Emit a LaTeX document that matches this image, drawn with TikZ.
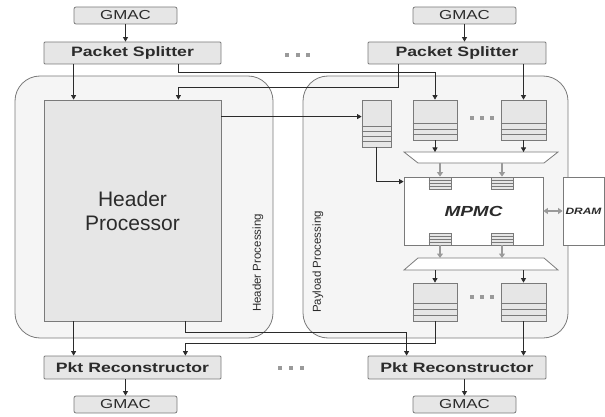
\documentclass[tikz,border=0pt]{standalone}
\usepackage{fontspec}
\setmainfont{Liberation Sans}
\newfontfamily\lab[FakeStretch=1.3]{Liberation Sans}
\usetikzlibrary{arrows.meta,calc}
\definecolor{boxfill}{HTML}{E6E6E6}
\definecolor{regfill}{HTML}{F5F5F5}
\definecolor{edge}{HTML}{7A7A7A}
\definecolor{ink}{HTML}{2B2B2B}
\definecolor{gline}{HTML}{9A9A9A}
\newcommand\qstripes[2]{\foreach \d in {#2}{\draw[edge,line width=0.7pt] ($(#1.south west)+(0,-\d)$) -- ($(#1.south east)+(0,-\d)$);}}
\begin{document}
\begin{tikzpicture}[x=1pt,y=-1pt,
 region/.style={draw=edge, fill=regfill, rounded corners=25pt, line width=0.8pt, inner sep=0},
 blk/.style={draw=edge, fill=boxfill, line width=0.8pt, inner sep=0, text=ink},
 gmacbox/.style={blk, minimum width=103pt, minimum height=17pt, rounded corners=2pt, font=\lab\fontsize{13}{15}\selectfont},
 unitbox/.style={blk, minimum height=22pt, rounded corners=1pt, font=\lab\bfseries\fontsize{13.6}{16}\selectfont},
 queue/.style={blk},
 muxshape/.style={draw=edge, fill=white, line width=0.8pt},
 ctrl/.style={draw=edge, fill=white, inner sep=0, line width=0.8pt, text=ink},
 vlabel/.style={rotate=90, text=ink, font=\fontsize{11.5}{13}\selectfont},
 arr/.style={draw=ink, line width=0.7pt, -{Triangle[length=4.5pt,width=5pt]}},
 garr/.style={draw=gline, line width=1.3pt, -{Triangle[length=4.5pt,width=6pt]}},
 gdarr/.style={draw=gline, line width=1.3pt, {Triangle[length=4.5pt,width=6pt]}-{Triangle[length=4.5pt,width=6pt]}},
 dotmark/.style={fill=gline}
]
\useasboundingbox (0,0) rectangle (605,417);

% regions
\node[region, minimum width=258pt, minimum height=262pt] (hreg) at (144,207) {};
\node[region, minimum width=265pt, minimum height=262pt] (preg) at (435.5,207) {};
\node[vlabel] (hlab) at (258,263) {Header Processing};
\node[vlabel] (plab) at (318,262) {Payload Processing};

% top / bottom units
\node[gmacbox] (g1) at (125.5,15.5) {GMAC};
\node[gmacbox] (g2) at (464.5,15.5) {GMAC};
\node[unitbox, minimum width=177pt] (s1) at (132.5,53) {Packet Splitter};
\node[unitbox, minimum width=178pt] (s2) at (457,53) {Packet Splitter};
\node[blk, minimum width=177pt, minimum height=221pt, align=center, font=\fontsize{21}{24}\selectfont] (hp) at (132.5,210.5) {Header\\Processor};
\node[unitbox, minimum width=177pt, minimum height=23pt] (r1) at (132.5,367.5) {Pkt Reconstructor};
\node[unitbox, minimum width=178pt, minimum height=23pt] (r2) at (457,367.5) {Pkt Reconstructor};
\node[gmacbox] (g3) at (125.5,404.5) {GMAC};
\node[gmacbox] (g4) at (464.5,404.5) {GMAC};

% queues
\node[queue, minimum width=29pt, minimum height=47pt] (sq) at (376.5,123.5) {};
\node[queue, minimum width=44pt, minimum height=40pt] (q1) at (435,120) {};
\node[queue, minimum width=45pt, minimum height=40pt] (q2) at (523.5,120) {};
\node[queue, minimum width=44pt, minimum height=38pt] (q3) at (435,302) {};
\node[queue, minimum width=45pt, minimum height=38pt] (q4) at (523.5,302) {};
\qstripes{sq}{6,11,16,21}
\qstripes{q1}{6,11.5,17}
\qstripes{q2}{6,11.5,17}
\qstripes{q3}{6,12,18}
\qstripes{q4}{6,12,18}

% muxes
\draw[muxshape] (404,152) -- (558,152) -- (544,163) -- (418,163) -- cycle;
\draw[muxshape] (418,258) -- (544,258) -- (558,270) -- (404,270) -- cycle;
\coordinate (m1t) at (481,152);
\coordinate (m1b) at (481,163);
\coordinate (m2t) at (481,258);
\coordinate (m2b) at (481,270);

% memory controller
\node[ctrl, minimum width=139pt, minimum height=68pt, font=\lab\bfseries\itshape\fontsize{14.6}{17}\selectfont] (mpmc) at (473.5,211) {MPMC};
\node[ctrl, minimum width=41pt, minimum height=68pt, font=\lab\bfseries\itshape\fontsize{9.2}{11}\selectfont] (dram) at (583.5,211) {DRAM};
\node[queue, minimum width=22pt, minimum height=12pt] (mq1) at (440,183) {};
\node[queue, minimum width=22pt, minimum height=12pt] (mq2) at (502,183) {};
\node[queue, minimum width=22pt, minimum height=12pt] (mq3) at (440,239) {};
\node[queue, minimum width=22pt, minimum height=12pt] (mq4) at (502,239) {};
\qstripes{mq1}{3,6,9}
\qstripes{mq2}{3,6,9}
\qstripes{mq3}{3,6,9}
\qstripes{mq4}{3,6,9}

% top connectors
\draw[arr] (g1.south) -- (g1.south |- s1.north);
\draw[arr] (g2.south) -- (g2.south |- s2.north);
\draw[arr] ($(s1.south west)+(30,0)$) -- ($(hp.north west)+(30,0)$);
\draw[arr] ($(s1.south east)+(-43,0)$) -- ++(0,8) -| (q1.north);
\draw[arr] ($(s2.south west)+(31,0)$) -- ++(0,23) -| ($(hp.north east)+(-43,0)$);
\draw[arr] (q2.north |- s2.south) -- (q2.north);

% middle connectors
\coordinate (sqin) at ($(sq.north west)+(0,17)$);
\draw[arr] (hp.east |- sqin) -- (sqin);
\draw[arr] (sq.south) |- ($(mpmc.north west)+(0,5)$);
\draw[arr] (q1.south) -- (q1.south |- m1t);
\draw[arr] (q2.south) -- (q2.south |- m1t);
\draw[garr] (mq1.north |- m1b) -- (mq1.north);
\draw[garr] (mq2.north |- m1b) -- (mq2.north);
\draw[gdarr] (mpmc.east) -- (dram.west);
\draw[garr] (mq3.south) -- (mq3.south |- m2t);
\draw[garr] (mq4.south) -- (mq4.south |- m2t);
\draw[arr] (q3.north |- m2b) -- (q3.north);
\draw[arr] (q4.north |- m2b) -- (q4.north);

% bottom connectors
\draw[arr] ($(hp.south west)+(30,0)$) -- ($(r1.north west)+(30,0)$);
\draw[arr] ($(hp.south east)+(-36,0)$) -- ++(0,11) -| ($(r2.north west)+(39,0)$);
\draw[arr] (q3.south) -- ++(0,22) -| ($(r1.north east)+(-36,0)$);
\draw[arr] (q4.south) -- (q4.south |- r2.north);
\draw[arr] (g3.north |- r1.south) -- (g3.north);
\draw[arr] (g4.north |- r2.south) -- (g4.north);

% ellipses
\foreach \x in {287,297.5,308}{\fill[dotmark] (\x-2,53) rectangle ++(4,4);}
\foreach \x in {280,291,302}{\fill[dotmark] (\x-2,366) rectangle ++(4,4);}
\foreach \x in {472,482,492}{\fill[dotmark] (\x-2,116) rectangle ++(4,4);}
\foreach \x in {472,482,492}{\fill[dotmark] (\x-2,295) rectangle ++(4,4);}
\end{tikzpicture}
\end{document}
